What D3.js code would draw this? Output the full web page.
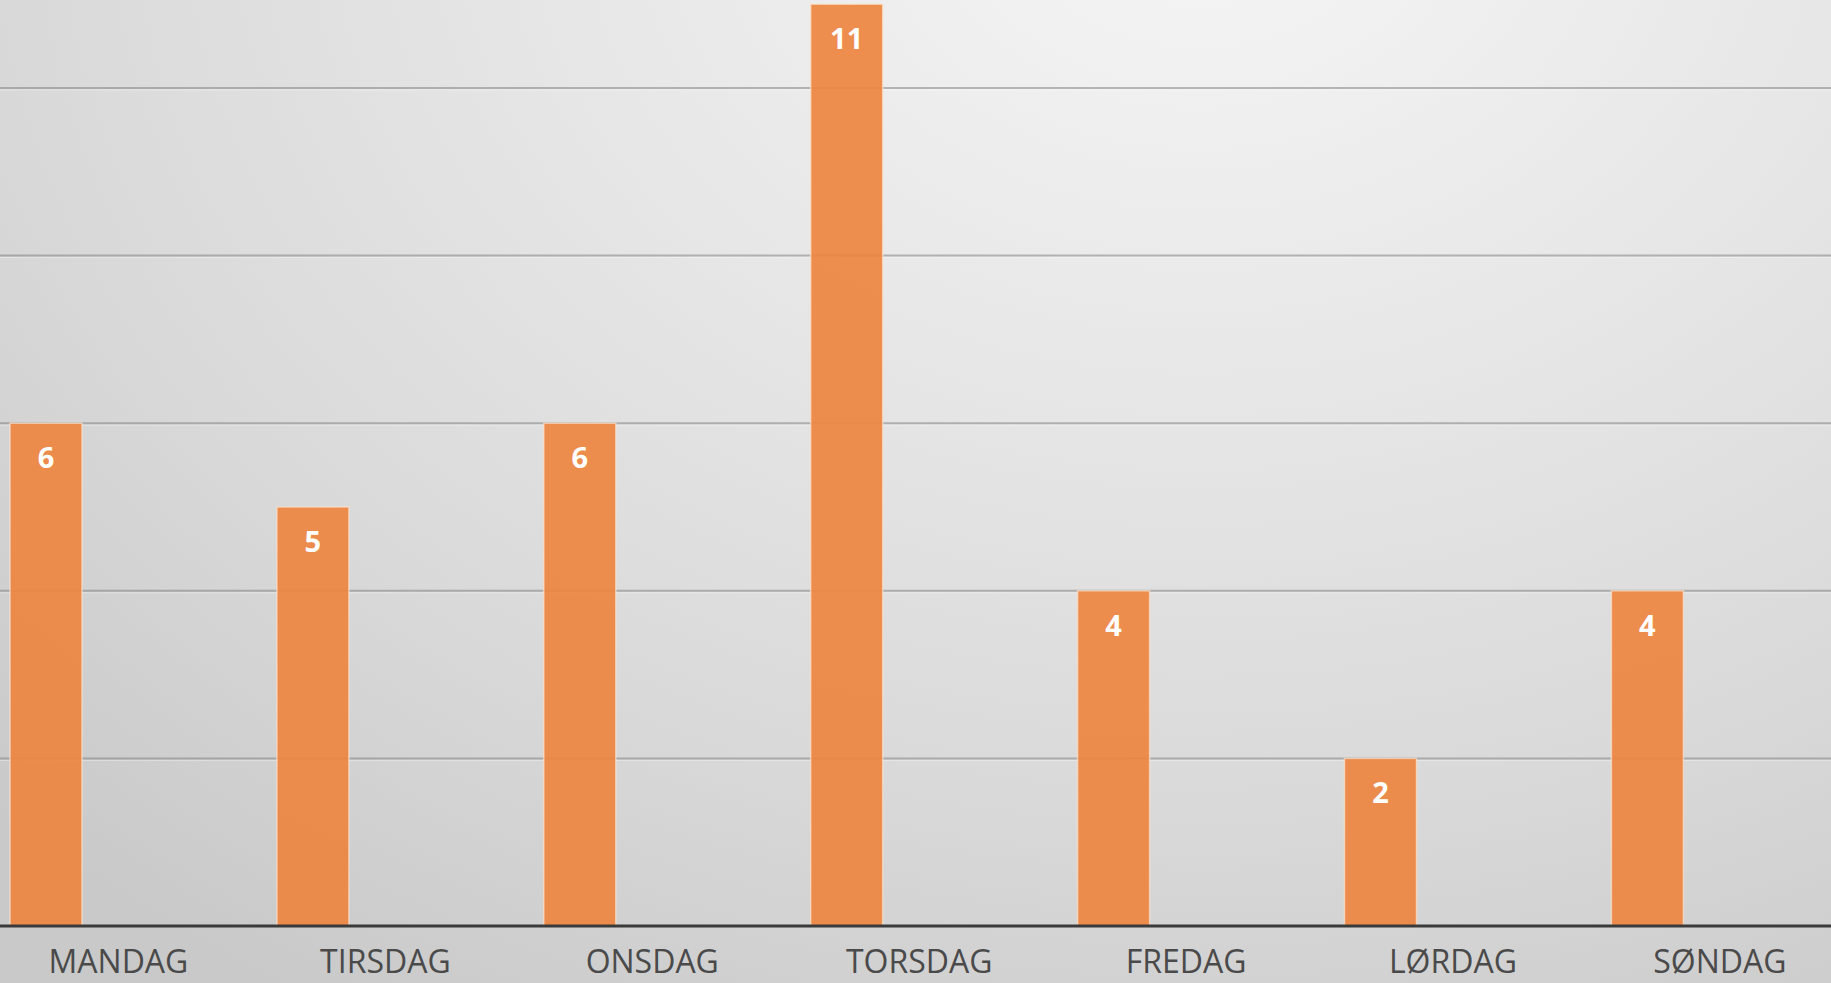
<!DOCTYPE html>
<html>
<head>
<meta charset="utf-8">
<script src="https://cdn.jsdelivr.net/npm/d3@7"></script>
<style>
  html, body { margin: 0; padding: 0; overflow: hidden; background: #d8d8d8; }
  svg { display: block; }
</style>
</head>
<body>
<svg id="chart" width="1831" height="983"></svg>
<script>
// Weekday counts
const days = ["MANDAG", "TIRSDAG", "ONSDAG", "TORSDAG", "FREDAG", "LØRDAG", "SØNDAG"];
const counts = [6, 5, 6, 11, 4, 2, 4];
const gridTicks = [2, 4, 6, 8, 10, 12];

const W = 1831, H = 983;
const svg = d3.select("#chart");

// Background: soft light-grey gradient, brightest near the top centre-right
const defs = svg.append("defs");
const bg = defs.append("radialGradient")
  .attr("id", "bg").attr("gradientUnits", "userSpaceOnUse")
  .attr("cx", 0).attr("cy", 0).attr("r", 1)
  .attr("gradientTransform", "translate(1200,-100) scale(1700,1300)");
bg.append("stop").attr("offset", "0%").attr("stop-color", "#f6f6f6");
bg.append("stop").attr("offset", "40%").attr("stop-color", "#e6e6e6");
bg.append("stop").attr("offset", "70%").attr("stop-color", "#d9d9d9");
bg.append("stop").attr("offset", "100%").attr("stop-color", "#c9c9c9");
svg.append("rect").attr("width", W).attr("height", H).attr("fill", "url(#bg)");

// Scales
const baseY = 926;
const unit = 83.8;
const y = d3.scaleLinear().domain([0, 12]).range([baseY, baseY - 12 * unit]);

const step = 266.9;
const x = d3.scaleBand().domain(days)
  .range([-15, -15 + step * days.length]).padding(0);
const barOffset = 25;   // bar sits in the left part of each category slot
const barWidth = 72;

// Gridlines
const grid = svg.append("g");
grid.selectAll("line.g").data(gridTicks).join("line")
  .attr("class", "g")
  .attr("x1", 0).attr("x2", W)
  .attr("y1", d => y(d)).attr("y2", d => y(d))
  .attr("stroke", "#7a7a7a").attr("stroke-opacity", 0.5).attr("stroke-width", 2);
grid.selectAll("line.h").data(gridTicks).join("line")
  .attr("class", "h")
  .attr("x1", 0).attr("x2", W)
  .attr("y1", d => y(d) + 2).attr("y2", d => y(d) + 2)
  .attr("stroke", "#ffffff").attr("stroke-opacity", 0.35).attr("stroke-width", 1);

// Bars
svg.append("g").selectAll("rect").data(days).join("rect")
  .attr("x", (d) => x(d) + barOffset)
  .attr("y", (d, i) => y(counts[i]))
  .attr("width", barWidth)
  .attr("height", (d, i) => y(0) - y(counts[i]))
  .attr("fill", "#ee8540")
  .attr("fill-opacity", 0.92)
  .attr("stroke", "#fbe3cf")
  .attr("stroke-opacity", 0.7)
  .attr("stroke-width", 1.5);

// Value labels inside the top of each bar
svg.append("g").selectAll("text").data(days).join("text")
  .attr("x", (d) => x(d) + barOffset + barWidth / 2)
  .attr("y", (d, i) => y(counts[i]) + 45)
  .attr("text-anchor", "middle")
  .attr("font-family", "'Open Sans', 'DejaVu Sans', sans-serif")
  .attr("font-weight", 700)
  .attr("font-size", 29)
  .attr("fill", "#ffffff")
  .text((d, i) => counts[i]);

// Category axis
const axis = d3.axisBottom(x).tickSize(0).tickPadding(0);
const ax = svg.append("g").attr("transform", `translate(0,${baseY})`).call(axis);
ax.select(".domain").remove();
ax.append("line")
  .attr("x1", 0).attr("x2", W).attr("y1", 0).attr("y2", 0)
  .attr("stroke", "#3a3a3a").attr("stroke-width", 3);
ax.selectAll(".tick text")
  .attr("y", 47)
  .attr("dy", 0)
  .attr("font-family", "'Open Sans', 'DejaVu Sans', sans-serif")
  .attr("font-size", 32)
  .attr("fill", "#4a4a4a");
</script>
</body>
</html>
